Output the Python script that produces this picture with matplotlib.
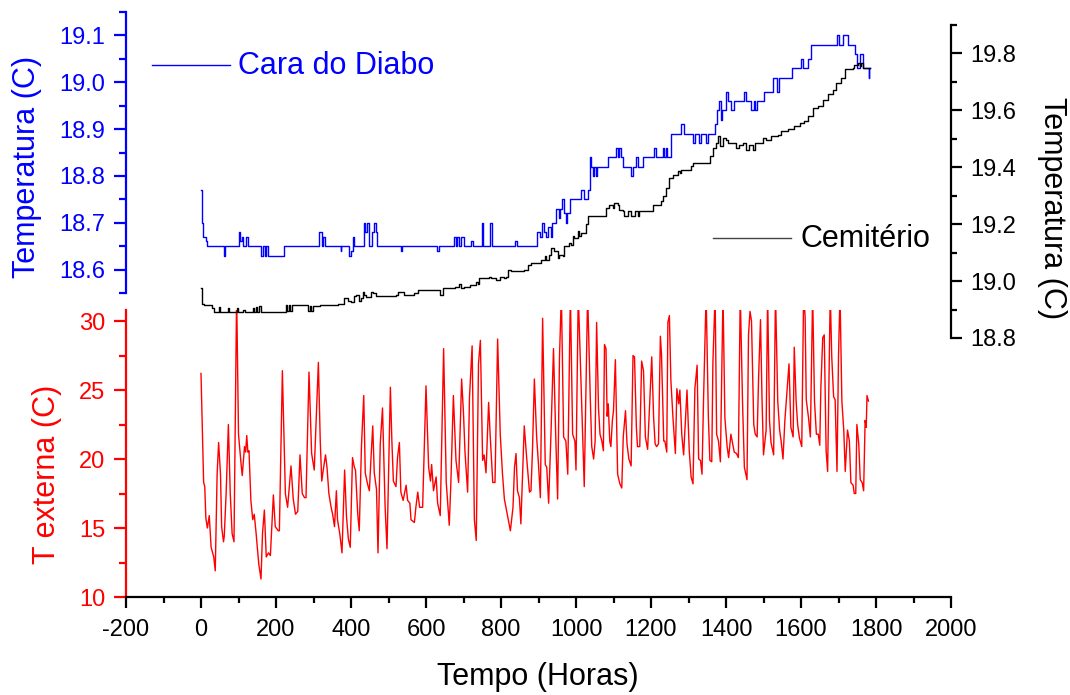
import numpy as np
import matplotlib
matplotlib.use('Agg')
import matplotlib.pyplot as plt
from matplotlib.lines import Line2D
from matplotlib.ticker import MultipleLocator

plt.rcParams['font.family'] = ['Liberation Sans', 'DejaVu Sans']
plt.rcParams['axes.unicode_minus'] = False

# temperatura externa (hours, C)
ext_h = [0, 7, 10, 13, 17, 22, 27, 34, 38, 43, 47, 52, 55, 60, 62, 67, 73, 78, 83, 88,
         95, 100, 107, 110, 116, 119, 122, 125, 128, 133, 138, 142, 147, 154, 160, 164, 169, 174, 180, 185,
         193, 198, 206, 209, 217, 225, 231, 240, 246, 252, 258, 264, 270, 276, 280, 288, 295, 302, 313, 318,
         322, 326, 332, 336, 341, 347, 351, 356, 361, 364, 370, 376, 383, 388, 393, 398, 404, 409, 412, 418,
         422, 428, 434, 438, 444, 449, 453, 458, 462, 468, 472, 478, 484, 491, 496, 505, 509, 513, 520, 524,
         529, 533, 539, 547, 551, 557, 560, 569, 573, 578, 583, 591, 600, 607, 612, 615, 620, 627, 631, 638,
         647, 654, 662, 666, 673, 680, 687, 695, 700, 704, 711, 716, 723, 729, 734, 740, 745, 751, 755, 760,
         767, 771, 778, 784, 791, 798, 804, 809, 818, 825, 832, 836, 840, 844, 849, 853, 862, 869, 876, 880,
         884, 889, 895, 900, 905, 911, 918, 922, 927, 933, 940, 946, 951, 956, 961, 967, 973, 978, 985, 991,
         997, 1000, 1006, 1015, 1022, 1031, 1038, 1042, 1047, 1051, 1055, 1060, 1064, 1069, 1073, 1076, 1080, 1083, 1086, 1090,
         1093, 1097, 1100, 1105, 1111, 1117, 1122, 1126, 1132, 1136, 1141, 1147, 1152, 1156, 1161, 1164, 1170, 1175, 1180, 1185,
         1191, 1202, 1207, 1211, 1215, 1220, 1225, 1228, 1234, 1237, 1242, 1245, 1249, 1253, 1259, 1265, 1269, 1274, 1277, 1282,
         1287, 1296, 1302, 1307, 1312, 1317, 1323, 1327, 1332, 1336, 1340, 1347, 1353, 1357, 1362, 1365, 1371, 1375, 1380, 1385,
         1389, 1392, 1397, 1403, 1407, 1413, 1418, 1422, 1428, 1433, 1438, 1444, 1449, 1456, 1460, 1464, 1468, 1474, 1478, 1483,
         1487, 1492, 1496, 1500, 1507, 1511, 1516, 1520, 1527, 1532, 1538, 1543, 1547, 1552, 1557, 1563, 1568, 1573, 1579, 1582,
         1587, 1591, 1596, 1602, 1607, 1611, 1614, 1620, 1625, 1631, 1636, 1641, 1646, 1650, 1653, 1658, 1662, 1667, 1671, 1678,
         1682, 1687, 1691, 1696, 1700, 1704, 1709, 1714, 1718, 1724, 1729, 1733, 1739, 1742, 1746, 1749, 1754, 1758, 1763, 1767,
         1771, 1774, 1776, 1780]
ext_t = [26.2, 18.3, 18.0, 15.7, 15.0, 15.9, 13.6, 12.9, 11.9, 18.9, 21.2, 18.9, 15.1, 14.0, 14.4, 17.5, 22.5, 17.5, 14.6, 14.0,
         32.0, 21.8, 19.6, 18.8, 20.9, 20.5, 21.7, 20.5, 20.6, 17.0, 15.6, 16.0, 14.6, 12.4, 11.3, 14.6, 16.3, 12.9, 13.2, 13.0,
         17.4, 15.1, 14.8, 14.8, 26.4, 17.5, 16.5, 19.5, 17.1, 16.0, 16.2, 20.3, 17.5, 17.2, 17.2, 26.3, 20.4, 19.2, 27.0, 21.3,
         18.4, 19.2, 20.3, 19.4, 17.5, 16.5, 16.0, 15.1, 17.7, 15.6, 14.6, 13.2, 19.2, 15.8, 14.2, 13.6, 20.1, 19.4, 19.2, 16.0,
         14.8, 21.0, 24.6, 19.0, 18.2, 17.7, 19.9, 22.4, 19.0, 17.8, 13.2, 21.1, 23.7, 16.5, 13.5, 25.2, 21.3, 18.4, 18.0, 20.1,
         21.2, 17.6, 17.0, 18.1, 17.0, 16.8, 15.6, 15.4, 16.5, 17.6, 16.5, 16.5, 25.3, 19.4, 18.4, 19.6, 17.7, 18.7, 16.8, 15.9,
         28.0, 18.3, 15.2, 18.0, 24.6, 19.9, 18.3, 25.8, 23.3, 20.5, 17.6, 24.5, 28.2, 15.6, 14.1, 26.9, 28.6, 19.9, 20.3, 19.0,
         24.1, 21.8, 18.3, 18.3, 28.7, 21.8, 18.9, 17.1, 15.8, 14.8, 16.5, 19.4, 20.4, 17.7, 17.2, 15.3, 22.4, 19.9, 17.6, 17.7,
         20.7, 25.8, 21.6, 19.6, 17.2, 30.2, 19.6, 19.4, 16.8, 21.6, 28.0, 21.6, 17.1, 27.4, 32.0, 21.6, 21.3, 18.9, 32.0, 21.8,
         21.3, 19.2, 32.0, 24.0, 18.0, 32.0, 24.5, 20.9, 20.0, 21.3, 29.9, 23.7, 21.8, 21.3, 20.6, 28.3, 28.0, 23.1, 24.0, 21.3,
         20.9, 22.8, 23.5, 27.2, 18.9, 18.2, 17.9, 21.6, 23.5, 21.1, 20.0, 19.5, 27.5, 27.4, 22.3, 20.9, 20.9, 27.1, 26.4, 21.6,
         20.7, 27.4, 23.0, 21.1, 20.9, 21.1, 28.9, 27.6, 21.3, 21.3, 20.5, 29.9, 30.4, 25.7, 22.8, 20.4, 25.1, 24.0, 25.0, 21.8,
         20.3, 25.0, 20.6, 18.7, 18.2, 25.1, 26.8, 20.0, 19.9, 18.9, 24.2, 32.0, 23.0, 19.9, 19.8, 26.9, 32.0, 21.8, 21.3, 19.8,
         26.9, 32.0, 23.0, 20.9, 20.1, 21.8, 21.1, 20.5, 20.4, 20.1, 32.0, 24.2, 19.4, 18.5, 29.0, 30.7, 30.0, 22.5, 21.8, 21.6,
         26.0, 30.1, 24.4, 20.3, 22.1, 32.0, 22.8, 21.2, 20.3, 32.0, 24.2, 22.1, 21.3, 20.0, 22.8, 25.0, 26.9, 22.3, 21.6, 28.1,
         24.2, 22.5, 21.5, 20.9, 32.0, 30.3, 24.3, 23.0, 21.6, 32.0, 24.2, 21.8, 21.8, 21.0, 25.2, 28.8, 29.0, 20.6, 19.1, 32.0,
         27.4, 24.5, 24.3, 19.1, 27.4, 32.0, 24.2, 22.1, 19.1, 22.1, 21.3, 18.3, 18.1, 17.5, 17.5, 22.5, 21.1, 18.5, 18.3, 17.7,
         22.8, 22.3, 24.6, 24.2]

# Cara do Diabo (step series)
cd_h = [0, 2, 6, 12, 16, 60, 64, 100, 104, 108, 112, 120, 126, 160, 164, 170, 174, 178, 222, 314,
        322, 326, 331, 372, 374, 394, 400, 404, 408, 434, 438, 442, 448, 456, 460, 466, 470, 532, 536, 630,
        634, 674, 680, 682, 688, 694, 700, 720, 724, 748, 752, 770, 776, 838, 842, 896, 904, 910, 914, 920,
        926, 932, 936, 946, 954, 958, 962, 968, 972, 976, 984, 1014, 1020, 1027, 1031, 1036, 1040, 1044, 1048, 1053,
        1057, 1084, 1106, 1111, 1115, 1120, 1124, 1146, 1151, 1160, 1164, 1178, 1209, 1212, 1231, 1235, 1240, 1243, 1253, 1280,
        1289, 1313, 1318, 1328, 1334, 1346, 1351, 1370, 1375, 1382, 1386, 1390, 1400, 1404, 1412, 1420, 1448, 1452, 1466, 1474,
        1478, 1483, 1501, 1524, 1537, 1542, 1577, 1601, 1604, 1618, 1627, 1696, 1702, 1711, 1724, 1745, 1749, 1758, 1766, 1780,
        1782, 1784]
cd_t = [18.77, 18.70, 18.67, 18.66, 18.65, 18.63, 18.65, 18.68, 18.66, 18.67, 18.65, 18.67, 18.65, 18.63, 18.65, 18.63, 18.65, 18.63, 18.65, 18.68,
        18.65, 18.67, 18.65, 18.64, 18.65, 18.63, 18.64, 18.67, 18.65, 18.70, 18.68, 18.70, 18.65, 18.68, 18.70, 18.68, 18.65, 18.64, 18.65, 18.64,
        18.65, 18.67, 18.65, 18.67, 18.65, 18.67, 18.65, 18.66, 18.65, 18.70, 18.65, 18.70, 18.65, 18.66, 18.65, 18.68, 18.67, 18.70, 18.68, 18.67,
        18.69, 18.67, 18.70, 18.73, 18.71, 18.73, 18.75, 18.72, 18.70, 18.72, 18.75, 18.77, 18.75, 18.75, 18.77, 18.84, 18.82, 18.80, 18.82, 18.80,
        18.82, 18.84, 18.86, 18.84, 18.86, 18.84, 18.82, 18.80, 18.82, 18.84, 18.82, 18.84, 18.86, 18.84, 18.86, 18.84, 18.86, 18.84, 18.89, 18.91,
        18.89, 18.87, 18.89, 18.87, 18.89, 18.87, 18.89, 18.91, 18.94, 18.96, 18.92, 18.94, 18.98, 18.96, 18.94, 18.96, 18.98, 18.96, 18.94, 18.96,
        18.94, 18.96, 18.98, 19.01, 18.98, 19.01, 19.03, 19.05, 19.03, 19.05, 19.08, 19.10, 19.08, 19.10, 19.08, 19.06, 19.03, 19.06, 19.03, 19.01,
        19.03, 19.03]

# Cemiterio
cm_h = [0, 2, 9, 28, 34, 48, 50, 71, 74, 95, 98, 113, 116, 138, 141, 147, 150, 155, 160, 222,
        227, 230, 234, 238, 243, 286, 290, 294, 298, 316, 364, 382, 391, 400, 409, 413, 421, 426, 431, 435,
        440, 453, 458, 467, 520, 524, 542, 567, 578, 631, 636, 644, 676, 689, 693, 702, 716, 733, 738, 742,
        769, 773, 787, 796, 809, 813, 818, 827, 862, 871, 880, 907, 916, 920, 929, 933, 942, 951, 955, 964,
        969, 982, 987, 991, 995, 1004, 1009, 1013, 1027, 1031, 1080, 1089, 1098, 1102, 1111, 1115, 1124, 1129, 1138, 1147,
        1156, 1164, 1169, 1205, 1227, 1231, 1240, 1249, 1258, 1271, 1276, 1280, 1307, 1311, 1356, 1364, 1373, 1378, 1385, 1391,
        1400, 1404, 1427, 1435, 1444, 1453, 1462, 1471, 1476, 1498, 1507, 1520, 1538, 1547, 1565, 1582, 1596, 1609, 1618, 1631,
        1644, 1658, 1671, 1684, 1693, 1707, 1716, 1738, 1742, 1751, 1756, 1760, 1765, 1784]
cm_t = [18.975, 18.92, 18.915, 18.905, 18.893, 18.91, 18.893, 18.905, 18.893, 18.905, 18.893, 18.90, 18.893, 18.905, 18.893, 18.91, 18.893, 18.912, 18.893, 18.893,
        18.916, 18.895, 18.916, 18.895, 18.916, 18.895, 18.912, 18.895, 18.912, 18.916, 18.92, 18.94, 18.93, 18.925, 18.946, 18.95, 18.93, 18.94, 18.963, 18.95,
        18.945, 18.963, 18.957, 18.946, 18.952, 18.963, 18.952, 18.957, 18.97, 18.97, 18.952, 18.975, 18.98, 18.99, 18.975, 18.98, 18.985, 18.998, 18.99, 19.01,
        19.016, 19.01, 19.004, 19.016, 19.01, 19.016, 19.04, 19.035, 19.04, 19.057, 19.063, 19.075, 19.087, 19.075, 19.093, 19.116, 19.104, 19.08, 19.093, 19.087,
        19.122, 19.133, 19.127, 19.157, 19.151, 19.175, 19.157, 19.169, 19.20, 19.227, 19.257, 19.268, 19.257, 19.274, 19.268, 19.251, 19.245, 19.227, 19.245, 19.227,
        19.245, 19.227, 19.245, 19.268, 19.28, 19.30, 19.327, 19.362, 19.374, 19.386, 19.38, 19.392, 19.403, 19.415, 19.439, 19.468, 19.486, 19.509, 19.474, 19.503,
        19.497, 19.486, 19.468, 19.48, 19.486, 19.462, 19.48, 19.462, 19.486, 19.503, 19.497, 19.509, 19.515, 19.527, 19.533, 19.544, 19.556, 19.562, 19.58, 19.61,
        19.615, 19.638, 19.656, 19.673, 19.697, 19.715, 19.744, 19.75, 19.761, 19.767, 19.755, 19.767, 19.75, 19.75]

W, H = 1070, 695
fig = plt.figure(figsize=(W / 100, H / 100), dpi=100)
left, width = 126 / W, 825 / W

ax_red = fig.add_axes([left, 1 - 597 / H, width, (597 - 310) / H])
ax_blue = fig.add_axes([left, 1 - 293 / H, width, (293 - 12) / H])
ax_blk = fig.add_axes([left, 1 - 338 / H, width, (338 - 25) / H])

for ax in (ax_red, ax_blue, ax_blk):
    ax.set_xlim(-200, 2000)
    ax.patch.set_visible(False)
    for s in ax.spines.values():
        s.set_visible(False)
        s.set_linewidth(1.6)

# bottom layer: external temperature
ax_red.plot(ext_h, ext_t, color='red', lw=1.0)
ax_red.set_ylim(10, 30.8)
ax_red.spines['left'].set_visible(True)
ax_red.spines['left'].set_color('red')
ax_red.spines['bottom'].set_visible(True)
ax_red.spines['bottom'].set_color('black')
ax_red.yaxis.set_major_locator(MultipleLocator(5))
ax_red.yaxis.set_minor_locator(MultipleLocator(2.5))
ax_red.xaxis.set_major_locator(MultipleLocator(200))
ax_red.xaxis.set_minor_locator(MultipleLocator(100))
ax_red.tick_params(axis='y', which='major', colors='red', labelsize=17, length=9, width=1.6, pad=6)
ax_red.tick_params(axis='y', which='minor', colors='red', length=5, width=1.6)
ax_red.tick_params(axis='x', which='major', labelsize=17, length=8, width=1.6, pad=8)
ax_red.tick_params(axis='x', which='minor', length=4.5, width=1.6)

# top layer: Cara do Diabo
ax_blue.plot(cd_h, cd_t, color='blue', lw=1.0, drawstyle='steps-post')
ax_blue.set_ylim(18.55, 19.15)
ax_blue.spines['left'].set_visible(True)
ax_blue.spines['left'].set_color('blue')
ax_blue.xaxis.set_visible(False)
ax_blue.yaxis.set_major_locator(MultipleLocator(0.1))
ax_blue.yaxis.set_minor_locator(MultipleLocator(0.05))
ax_blue.yaxis.set_major_formatter('{x:.1f}')
ax_blue.tick_params(axis='y', which='major', colors='blue', labelsize=17, length=9, width=1.6, pad=6)
ax_blue.tick_params(axis='y', which='minor', colors='blue', length=5, width=1.6)

# right layer: Cemiterio
ax_blk.plot(cm_h, cm_t, color='black', lw=1.0, drawstyle='steps-post')
ax_blk.set_ylim(18.8, 19.9)
ax_blk.spines['right'].set_visible(True)
ax_blk.xaxis.set_visible(False)
ax_blk.yaxis.tick_right()
ax_blk.yaxis.set_major_locator(MultipleLocator(0.2))
ax_blk.yaxis.set_minor_locator(MultipleLocator(0.1))
ax_blk.yaxis.set_major_formatter('{x:.1f}')
ax_blk.tick_params(axis='y', which='major', labelsize=17, length=8, width=1.6, pad=6)
ax_blk.tick_params(axis='y', which='minor', length=4.5, width=1.6)

# axis titles
fig.text(27 / W, 1 - 167 / H, 'Temperatura (C)', rotation=90, color='blue',
         fontsize=22, ha='center', va='center')
fig.text(47 / W, 1 - 474 / H, 'T externa (C)', rotation=90, color='red',
         fontsize=22, ha='center', va='center')
fig.text(1052 / W, 1 - 208 / H, 'Temperatura (C)', rotation=270, color='black',
         fontsize=22, ha='center', va='center')
fig.text(538 / W, 1 - 677 / H, 'Tempo (Horas)', fontsize=22, ha='center', va='center')

# legends
fig.add_artist(Line2D([152 / W, 230 / W], [1 - 65 / H, 1 - 65 / H], color='blue', lw=1.0))
fig.text(238 / W, 1 - 66 / H, 'Cara do Diabo', color='blue', fontsize=22, ha='left', va='center')
fig.add_artist(Line2D([713 / W, 791 / W], [1 - 238 / H, 1 - 238 / H], color='#444444', lw=1.0))
fig.text(800 / W, 1 - 239 / H, 'Cemitério', color='black', fontsize=22, ha='left', va='center')

fig.savefig('out.png', dpi=100)
